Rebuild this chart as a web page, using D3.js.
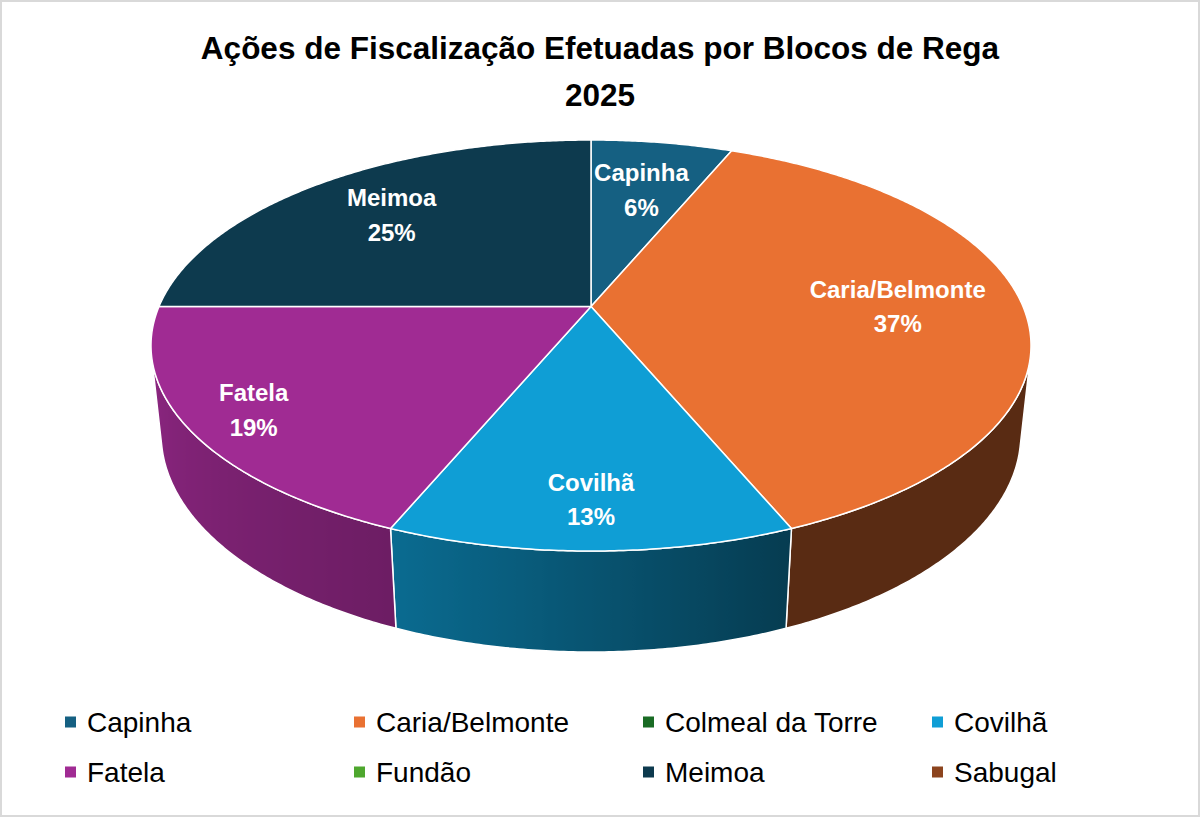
<!DOCTYPE html>
<html>
<head>
<meta charset="utf-8">
<script src="https://cdn.jsdelivr.net/npm/d3@7"></script>
<style>
  html, body { margin: 0; padding: 0; background: #ffffff; }
  svg { display: block; }
</style>
</head>
<body>
<svg id="chart" width="1200" height="817"></svg>
<script>
// ---------------- data ----------------
const categories = ["Capinha", "Caria/Belmonte", "Colmeal da Torre", "Covilhã", "Fatela", "Fundão", "Meimoa", "Sabugal"];
const counts = [1, 6, 0, 2, 3, 0, 4, 0];
const percentLabels = ["6%", "37%", "0%", "13%", "19%", "0%", "25%", "0%"];
const colors = ["#156082", "#E97132", "#196B24", "#0F9ED5", "#A02B93", "#4EA72E", "#0D3A4E", "#8C441E"];
const titleLines = ["Ações de Fiscalização Efetuadas por Blocos de Rega", "2025"];

// ---------------- layout ----------------
const W = 1200, H = 817;
const FONT = "'Liberation Sans', Arial, sans-serif";
const svg = d3.select("#chart");

// perspective projection of a tilted disc (unit radius)
const cx = 591, cy = 306.5, K = 432;
const sinP = 0.4586, cosP = 0.8887, persp = 0.2136, depth = 0.2337;
function proj(theta, rho, Y) {
  const X = rho * Math.sin(theta), Z = rho * Math.cos(theta);
  const dn = 1 + persp * (Z * cosP - Y * sinP);
  const yc = Y * cosP + Z * sinP;
  return [cx + K * X / dn, cy - K * yc / dn];
}
const deg = Math.PI / 180;
// visible outer wall: cos(theta) < -persp/cosP
const visLimit = Math.acos(-persp / cosP);
const visStart = visLimit, visEnd = 2 * Math.PI - visLimit;

const shade = d3.scaleLinear()
  .domain([0, 157.5, 202.5, 256, 360])
  .range([0.38, 0.38, 0.68, 0.86, 0.86])
  .clamp(true);
function darken(c, f) {
  const r = d3.rgb(c);
  return d3.rgb(r.r * f, r.g * f, r.b * f).formatHex();
}

// background + frame
svg.append("rect").attr("x", 1).attr("y", 1).attr("width", W - 2).attr("height", H - 2)
  .attr("fill", "#ffffff").attr("stroke", "#d9d9d9").attr("stroke-width", 2);

// title
svg.append("g").selectAll("text").data(titleLines).join("text")
  .attr("x", 600)
  .attr("y", (d, i) => 59 + i * 47)
  .attr("text-anchor", "middle")
  .attr("font-family", FONT)
  .attr("font-weight", "bold")
  .attr("font-size", 31.5)
  .attr("fill", "#000000")
  .text(d => d);

// pie angles
const pie = d3.pie().sort(null).value(d => d.v).startAngle(0).endAngle(2 * Math.PI);
const arcs = pie(categories.map((c, i) => ({ name: c, v: counts[i], color: colors[i], pct: percentLabels[i] })))
  .filter(a => a.data.v > 0);

const line = d3.line();
const defs = svg.append("defs");
function samples(a, b) {
  const n = Math.max(2, Math.ceil((b - a) / (0.5 * deg)));
  return d3.range(n + 1).map(k => a + (b - a) * k / n);
}

// side walls
const sideG = svg.append("g");
arcs.forEach((a, i) => {
  const s = Math.max(a.startAngle, visStart), e = Math.min(a.endAngle, visEnd);
  if (e <= s) return;
  const ts = samples(s, e);
  const top = ts.map(t => proj(t, 1, 0));
  const bot = ts.slice().reverse().map(t => proj(t, 1, -depth));
  const xs = top.concat(bot).map(p => p[0]);
  const x0 = d3.min(xs), x1 = d3.max(xs);
  const id = "side" + i;
  const grad = defs.append("linearGradient").attr("id", id)
    .attr("gradientUnits", "userSpaceOnUse")
    .attr("x1", x0).attr("y1", 0).attr("x2", x1).attr("y2", 0);
  const stops = ts.map(t => {
    const p = proj(t, 1, -depth / 2);
    return { o: (p[0] - x0) / (x1 - x0), c: darken(a.data.color, shade(t / deg)) };
  }).sort((u, v) => u.o - v.o);
  grad.selectAll("stop").data(stops).join("stop")
    .attr("offset", d => Math.max(0, Math.min(1, d.o)))
    .attr("stop-color", d => d.c);
  sideG.append("path")
    .attr("d", line(top.concat(bot)) + "Z")
    .attr("fill", `url(#${id})`)
    .attr("stroke", "#ffffff")
    .attr("stroke-width", 1.5)
    .attr("stroke-linejoin", "round");
});

// top faces
const topG = svg.append("g");
arcs.forEach(a => {
  const pts = [proj(0, 0, 0)].concat(samples(a.startAngle, a.endAngle).map(t => proj(t, 1, 0)));
  topG.append("path")
    .attr("d", line(pts) + "Z")
    .attr("fill", a.data.color)
    .attr("stroke", "#ffffff")
    .attr("stroke-width", 1.5)
    .attr("stroke-linejoin", "round");
});

// data labels
const labelReach = { "Capinha": 0.71, "Caria/Belmonte": 0.71, "Covilhã": 0.79, "Fatela": 0.84, "Meimoa": 0.74 };
const labG = svg.append("g")
  .attr("font-family", FONT).attr("font-weight", "bold").attr("font-size", 24)
  .attr("fill", "#ffffff").attr("text-anchor", "middle");
arcs.forEach(a => {
  const mid = (a.startAngle + a.endAngle) / 2;
  const rim = proj(mid, 1, 0), c0 = proj(0, 0, 0);
  const f = labelReach[a.data.name] || 0.72;
  const px = c0[0] + (rim[0] - c0[0]) * f;
  const py = c0[1] + (rim[1] - c0[1]) * f;
  labG.append("text").attr("x", px).attr("y", py - 8.7).text(a.data.name);
  labG.append("text").attr("x", px).attr("y", py + 25.8).text(a.data.pct);
});

// legend
const legG = svg.append("g").attr("font-family", FONT).attr("font-size", 28);
const leg = legG.selectAll("g").data(categories).join("g")
  .attr("transform", (d, i) => `translate(${65 + (i % 4) * 289},${722 + Math.floor(i / 4) * 50})`);
leg.append("rect").attr("x", 0).attr("y", -5.5).attr("width", 11).attr("height", 11)
  .attr("fill", (d, i) => colors[i]);
leg.append("text").attr("x", 22).attr("y", 9.5).attr("fill", "#000000").text(d => d);
</script>
</body>
</html>
